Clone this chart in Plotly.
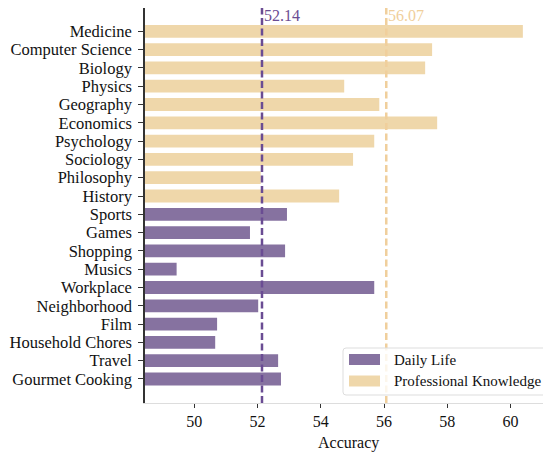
import plotly.graph_objects as go

daily_cats = ["Sports", "Games", "Shopping", "Musics", "Workplace", "Neighborhood",
              "Film", "Household Chores", "Travel", "Gourmet Cooking"]
daily_vals = [52.93, 51.76, 52.87, 49.44, 55.69, 52.02, 50.72, 50.66, 52.65, 52.74]

prof_cats = ["Medicine", "Computer Science", "Biology", "Physics", "Geography",
             "Economics", "Psychology", "Sociology", "Philosophy", "History"]
prof_vals = [60.39, 57.52, 57.30, 54.74, 55.85, 57.68, 55.69, 55.02, 52.10, 54.58]

daily_mean = 52.14
prof_mean = 56.07

x_ticks = [50, 52, 54, 56, 58, 60]

series_names = ["Daily Life", "Professional Knowledge"]

PURPLE = "#8672A0"
TAN = "#EFD7AA"
PURPLE_LINE = "#6A4C93"
TAN_LINE = "#F0CF9C"
FONT = "Liberation Serif, Times New Roman, serif"

all_cats = prof_cats + daily_cats

fig = go.Figure()
fig.add_trace(go.Bar(x=daily_vals, y=daily_cats, orientation="h", name=series_names[0],
                     marker=dict(color=PURPLE, line=dict(width=0)), width=0.7))
fig.add_trace(go.Bar(x=prof_vals, y=prof_cats, orientation="h", name=series_names[1],
                     marker=dict(color=TAN, line=dict(width=0)), width=0.7))

for m, c in [(daily_mean, PURPLE_LINE), (prof_mean, TAN_LINE)]:
    fig.add_shape(type="line", x0=m, x1=m, y0=0, y1=1, xref="x", yref="paper",
                  line=dict(color=c, width=2.5, dash="7px,3.5px"), layer="above")
    fig.add_annotation(x=m, y=1, xref="x", yref="paper", text=f"{m:.2f}",
                       showarrow=False, xanchor="left", yanchor="top", xshift=0, yshift=3,
                       font=dict(family=FONT, size=16, color=c))

xmin = min(daily_vals + prof_vals) - 1

fig.add_annotation(x=0.5, y=0, xref="paper", yref="paper", yshift=-40, text="Accuracy",
                   showarrow=False, xanchor="center", yanchor="middle",
                   font=dict(family=FONT, size=16, color="#111"))

# Manual legend (matplotlib-style box with wide swatches)
W, H = 406.0, 395.0
def px(fx):
    return (fx - 137) / W
def py(fy):
    return (395 - fy) / H

bx0, bx1, by0, by1 = px(335), px(538), py(387), py(340)
rx, ry = 3 / W, 3 / H
path = (f"M {bx0+rx},{by0} L {bx1-rx},{by0} Q {bx1},{by0} {bx1},{by0+ry} "
        f"L {bx1},{by1-ry} Q {bx1},{by1} {bx1-rx},{by1} L {bx0+rx},{by1} "
        f"Q {bx0},{by1} {bx0},{by1-ry} L {bx0},{by0+ry} Q {bx0},{by0} {bx0+rx},{by0} Z")
fig.add_shape(type="path", path=path, xref="paper", yref="paper",
              fillcolor="rgba(255,255,255,0.8)", line=dict(color="#DDDDDD", width=1),
              layer="above")
for i, (name, col) in enumerate(zip(series_names, [PURPLE, TAN])):
    top = 346 + i * 21.5
    fig.add_shape(type="rect", xref="paper", yref="paper",
                  x0=px(341), x1=px(372), y0=py(top + 11), y1=py(top),
                  fillcolor=col, line=dict(width=0), layer="above")
    fig.add_annotation(x=px(384), y=py(top + 5.5), xref="paper", yref="paper",
                       text=name, showarrow=False, xanchor="left", yanchor="middle",
                       font=dict(family=FONT, size=15, color="#111"))

fig.update_layout(
    width=543, height=445,
    margin=dict(l=137, r=0, t=0, b=50),
    plot_bgcolor="white", paper_bgcolor="white",
    font=dict(family=FONT, size=16, color="#111"),
    barmode="overlay",
    showlegend=False,
    xaxis=dict(range=[xmin, 61.28], tickvals=x_ticks, ticks="outside", ticklen=4,
               tickcolor="#333", showgrid=False, zeroline=False, automargin=False,
               showline=True, linecolor="#DDDDDD", linewidth=1,
               tickfont=dict(family=FONT, size=16)),
    yaxis=dict(categoryorder="array", categoryarray=all_cats, range=[20.313, -1.275],
               tickmode="array", tickvals=all_cats, ticktext=all_cats,
               ticks="outside", ticklen=5, tickcolor="#333", showgrid=False, automargin=False,
               zeroline=False, showline=True, linecolor="#333", linewidth=1.5,
               ticklabelstandoff=3,
               tickfont=dict(family=FONT, size=16.5)),
)

fig.write_html("out.html")
